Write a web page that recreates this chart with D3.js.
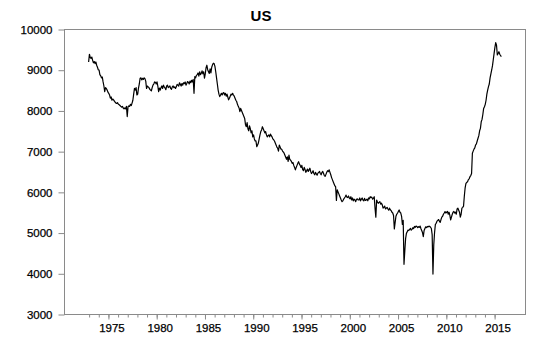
<html>
<meta charset="utf-8">
<script src="https://d3js.org/d3.v7.min.js"></script>
<style>
  body { margin: 0; background: #fff; }
</style>
<div id="chart"></div>
<script>
// monthly crude production, thousand barrels per day, Jan 1973 - Oct 2015
let firstYear = 1973
let monthly = [
  [9190, 9380, 9300, 9280, 9310, 9230, 9170, 9200, 9150, 9190, 9110, 9060],
  [9000, 8990, 8880, 8850, 8800, 8820, 8700, 8600, 8460, 8560, 8540, 8500],
  [8450, 8420, 8380, 8300, 8330, 8250, 8280, 8260, 8230, 8200, 8180, 8170],
  [8190, 8150, 8140, 8120, 8100, 8080, 8100, 8060, 8040, 8060, 8040, 8100],
  [7850, 8090, 8110, 8100, 8150, 8120, 8180, 8250, 8400, 8540, 8500, 8560],
  [8380, 8400, 8550, 8650, 8790, 8800, 8750, 8790, 8760, 8800, 8780, 8720],
  [8540, 8600, 8580, 8560, 8520, 8500, 8480, 8560, 8620, 8650, 8700, 8690],
  [8650, 8700, 8600, 8460, 8550, 8500, 8560, 8600, 8540, 8620, 8580, 8550],
  [8510, 8600, 8620, 8560, 8580, 8600, 8540, 8520, 8580, 8600, 8560, 8580],
  [8540, 8580, 8640, 8620, 8600, 8680, 8640, 8600, 8660, 8620, 8680, 8660],
  [8700, 8620, 8660, 8710, 8690, 8650, 8720, 8680, 8740, 8700, 8760, 8420],
  [8830, 8800, 8860, 8880, 8920, 8840, 8950, 8880, 8910, 8970, 8900, 8950],
  [8790, 8900, 9050, 9110, 9000, 8950, 8910, 9020, 8920, 9060, 9120, 9160],
  [9150, 9080, 8950, 8800, 8650, 8500, 8400, 8340, 8380, 8420, 8380, 8430],
  [8440, 8380, 8420, 8350, 8400, 8330, 8260, 8300, 8350, 8400, 8380, 8420],
  [8380, 8350, 8300, 8250, 8220, 8150, 8100, 8060, 7970, 8050, 8000, 7950],
  [7900, 7850, 7800, 7650, 7600, 7700, 7550, 7500, 7620, 7550, 7450, 7500],
  [7350, 7400, 7300, 7250, 7250, 7110, 7150, 7200, 7300, 7400, 7480, 7520],
  [7600, 7550, 7500, 7450, 7480, 7400, 7350, 7380, 7400, 7350, 7420, 7380],
  [7350, 7300, 7280, 7250, 7200, 7150, 7100, 7070, 7000, 7150, 7100, 7050],
  [7050, 7000, 6980, 6950, 6900, 6850, 6800, 6860, 6750, 6900, 6800, 6780],
  [6750, 6700, 6720, 6650, 6600, 6540, 6600, 6650, 6700, 6740, 6680, 6650],
  [6600, 6650, 6550, 6520, 6600, 6550, 6480, 6520, 6560, 6500, 6540, 6580],
  [6500, 6450, 6480, 6520, 6450, 6420, 6480, 6440, 6410, 6460, 6480, 6500],
  [6450, 6420, 6480, 6500, 6450, 6400, 6380, 6430, 6480, 6520, 6500, 6540],
  [6480, 6420, 6350, 6300, 6250, 6200, 6150, 6130, 5790, 6050, 6000, 5950],
  [5900, 5850, 5800, 5760, 5780, 5820, 5850, 5880, 5920, 5870, 5860, 5900],
  [5850, 5830, 5880, 5800, 5850, 5780, 5820, 5800, 5760, 5820, 5830, 5800],
  [5800, 5850, 5780, 5820, 5850, 5800, 5780, 5840, 5790, 5800, 5820, 5780],
  [5850, 5830, 5880, 5860, 5870, 5820, 5840, 5880, 5600, 5380, 5800, 5750],
  [5720, 5740, 5760, 5700, 5720, 5680, 5600, 5620, 5650, 5580, 5600, 5620],
  [5580, 5550, 5600, 5560, 5540, 5500, 5480, 5420, 5090, 5250, 5400, 5450],
  [5480, 5520, 5555, 5500, 5480, 5400, 5200, 5300, 4220, 4550, 4850, 4980],
  [5020, 5060, 5050, 5080, 5100, 5060, 5080, 5120, 5100, 5150, 5130, 5160],
  [5150, 5120, 5145, 5130, 5160, 5100, 5050, 5000, 4900, 5050, 5100, 5140],
  [5120, 5150, 5140, 5160, 5150, 5130, 5100, 4950, 3980, 4700, 5000, 5200],
  [5230, 5280, 5300, 5320, 5280, 5250, 5320, 5380, 5400, 5450, 5480, 5515],
  [5480, 5500, 5520, 5450, 5500, 5420, 5310, 5380, 5450, 5500, 5520, 5480],
  [5500, 5450, 5580, 5600, 5550, 5500, 5380, 5450, 5600, 5620, 5650, 5900],
  [6100, 6210, 6230, 6250, 6300, 6320, 6373, 6400, 6450, 6950, 7000, 7050],
  [7080, 7150, 7180, 7250, 7316, 7380, 7500, 7560, 7723, 7780, 7900, 8050],
  [8092, 8150, 8250, 8400, 8500, 8583, 8650, 8800, 8900, 8993, 9100, 9250],
  [9403, 9550, 9664, 9600, 9361, 9400, 9443, 9380, 9350, 9320]
]
let yTicks = [3000, 4000, 5000, 6000, 7000, 8000, 9000, 10000]
let xLabels = [1975, 1980, 1985, 1990, 1995, 2000, 2005, 2010, 2015]
let xMinor = d3.range(1973, 2016)

let width = 540
    height = 341
    margin = {top: 29, right: 15, bottom: 27, left: 64}

let data = []
monthly.forEach(function(row, i) {
  row.forEach(function(v, m) {
    data.push({t: firstYear + i + m / 12, v: v})
  })
})

let svg = d3.select("#chart")
  .append("svg")
    .attr("width", width)
    .attr("height", height)
    .style("font-family", "'Liberation Sans', Arial, sans-serif")

let x = d3.scaleLinear()
  .domain([1970.45, 2018.2])
  .range([margin.left, width - margin.right])

let y = d3.scaleLinear()
  .domain([3000, 10000])
  .range([height - margin.bottom, margin.top])

let frameColor = "#8a8a8a"

// frame
svg.append("rect")
  .attr("x", x.range()[0] + 0.5)
  .attr("y", y.range()[1] + 0.5)
  .attr("width", x.range()[1] - x.range()[0])
  .attr("height", y.range()[0] - y.range()[1])
  .attr("fill", "none")
  .attr("stroke", frameColor)

// y axis
let yAxis = svg.append("g")
  .attr("transform", "translate(" + (margin.left + 0.5) + ",0.5)")
  .call(d3.axisLeft(y).tickValues(yTicks).tickSize(6).tickPadding(6).tickFormat(d3.format("d")))
yAxis.select(".domain").remove()
yAxis.selectAll(".tick line").attr("stroke", frameColor)
yAxis.selectAll(".tick text")
  .attr("fill", "#000")
  .style("font-size", "11.5px")
  .style("stroke", "#000")
  .style("stroke-width", "0.25px")

// x axis minor ticks
let xAxisMinor = svg.append("g")
  .attr("transform", "translate(0.5," + (height - margin.bottom + 0.5) + ")")
  .call(d3.axisBottom(x).tickValues(xMinor).tickSize(3).tickFormat(""))
xAxisMinor.select(".domain").remove()
xAxisMinor.selectAll(".tick line").attr("stroke", frameColor)

let xAxis = svg.append("g")
  .attr("transform", "translate(0.5," + (height - margin.bottom + 0.5) + ")")
  .call(d3.axisBottom(x).tickValues(xLabels).tickSize(5).tickPadding(4).tickFormat(d3.format("d")))
xAxis.select(".domain").remove()
xAxis.selectAll(".tick line").attr("stroke", frameColor)
xAxis.selectAll(".tick text")
  .attr("fill", "#000")
  .attr("dx", "3")
  .style("font-size", "11.5px")
  .style("stroke", "#000")
  .style("stroke-width", "0.25px")

// series
let line = d3.line()
  .x(function(d) { return x(d.t) })
  .y(function(d) { return y(d.v) })

svg.append("path")
  .datum(data)
  .attr("d", line)
  .attr("fill", "none")
  .attr("stroke", "#000")
  .attr("stroke-width", 1.2)
  .attr("stroke-linejoin", "round")

svg.append("text")
  .attr("x", 261)
  .attr("y", 21)
  .attr("text-anchor", "middle")
  .style("font-size", "15px")
  .style("font-weight", "bold")
  .text("US")
</script>
</html>
